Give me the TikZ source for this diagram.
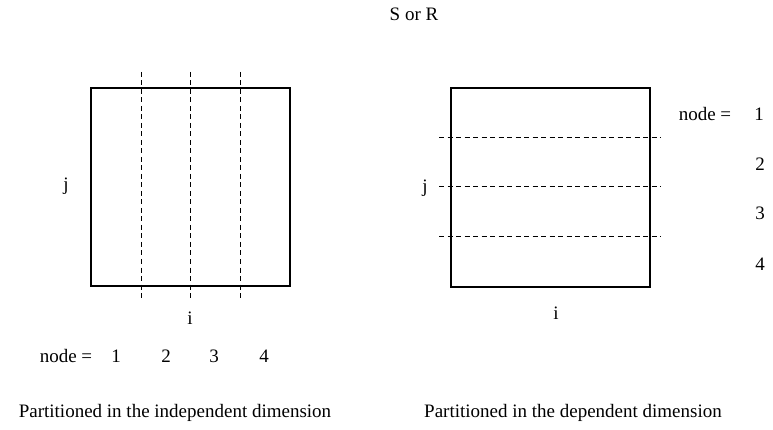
\documentclass[tikz,border=0pt]{standalone}
\usepackage{fontspec}
\setmainfont{Liberation Serif}
\usetikzlibrary{positioning}
\tikzset{
  box/.style={line width=1.4pt},
  cut/.style={line width=0.9pt, dash pattern=on 5pt off 3.5pt},
  lbl/.style={inner sep=0pt, font=\fontsize{19}{22}\selectfont}
}
\begin{document}
\begin{tikzpicture}[x=1pt, y=-1pt]
    \useasboundingbox (0,0) rectangle (773,430);
    \node[lbl] (title) at (414,14) {S or R};

    % partitioned in i (independent)
    \begin{scope}
        \draw[box] (91,88) rectangle (290,286);
        \foreach \xc in {141,190.5,240.5}
            \draw[cut] (\xc,72) -- (\xc,298);
        \node[lbl] (jl) at (66,186) {j};
        \node[lbl] (il) at (190,318) {i};
        \node[lbl] (nodel) at (66,356) {node =};
        \node[lbl] (nl1) at (116,356) {1};
        \node[lbl] (nl2) at (166,356) {2};
        \node[lbl] (nl3) at (214,356) {3};
        \node[lbl] (nl4) at (264,356) {4};
        \node[lbl] (capl) at (175,413) {Partitioned in the independent dimension};
    \end{scope}

    % partitioned in j (dependent)
    \begin{scope}
        \draw[box] (451,88) rectangle (650,287);
        \foreach \yc in {137.5,186.5,236.5}
            \draw[cut] (439,\yc) -- (661,\yc);
        \node[lbl] (jr) at (425,188) {j};
        \node[lbl] (ir) at (556,313) {i};
        \node[lbl] (noder) at (705,114) {node =};
        \node[lbl] (nr1) at (759,114) {1};
        \node[lbl] (nr2) at (760,164) {2};
        \node[lbl] (nr3) at (760,213) {3};
        \node[lbl] (nr4) at (760,264) {4};
        \node[lbl] (capr) at (573,413) {Partitioned in the dependent dimension};
    \end{scope}
\end{tikzpicture}
\end{document}
